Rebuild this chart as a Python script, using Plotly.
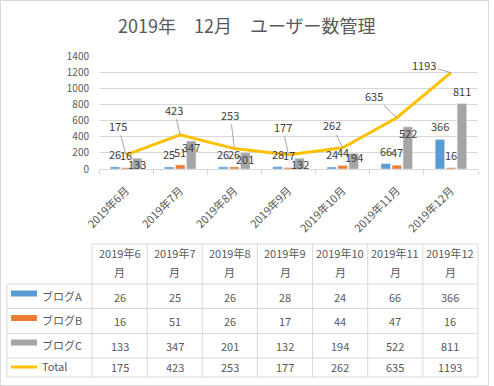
import plotly.graph_objects as go

# ---- data ----
categories = ["2019年6月", "2019年7月", "2019年8月", "2019年9月", "2019年10月", "2019年11月", "2019年12月"]
blog_a = [26, 25, 26, 28, 24, 66, 366]
blog_b = [16, 51, 26, 17, 44, 47, 16]
blog_c = [133, 347, 201, 132, 194, 522, 811]
total = [175, 423, 253, 177, 262, 635, 1193]
series_names = ["ブログA", "ブログB", "ブログC", "Total"]
y_ticks = [0, 200, 400, 600, 800, 1000, 1200, 1400]
title_text = "2019年　12月　ユーザー数管理"

# ---- style ----
W, H = 494, 386
FONT = "Noto Sans CJK JP"
C_A, C_B, C_C, C_T = "#5B9BD5", "#ED7D31", "#A5A5A5", "#FFC000"
GRID = "#D9D9D9"
TXT = "#595959"
LBL = "#404040"


def X(px):
    return px / W


def Y(py):
    return 1 - py / H


fig = go.Figure()
for vals, name, col in zip([blog_a, blog_b, blog_c], series_names[:3], [C_A, C_B, C_C]):
    fig.add_trace(go.Bar(x=categories, y=vals, name=name, marker_color=col, hoverinfo="skip"))
fig.add_trace(go.Scatter(x=categories, y=total, name=series_names[3], mode="lines",
                         line=dict(color=C_T, width=3), hoverinfo="skip"))

lfont = dict(family=FONT, size=11, color=LBL)
annotations = []

# bar data labels (placed at each bar's value, offset to the bar's slot in the group)
slot = 11  # px between bar centres in a group
bar_label_cfg = [
    (blog_a, -slot, [13] * 7),
    (blog_b, 0, [13] * 7),
    (blog_c, slot, [-6, -6, -6, -6, -4, -6, 13]),
]
for vals, xs, ys in bar_label_cfg:
    for c, v, yshift in zip(categories, vals, ys):
        annotations.append(dict(x=c, y=v, xref="x", yref="y", text=str(v), showarrow=False,
                                xanchor="center", yanchor="middle", xshift=xs, yshift=yshift,
                                font=lfont))

# total labels with leader lines
label_offsets = [(-8, -29), (-6, -25), (-4, -34), (-6, -28), (-11, -23), (-23, -22), (-27, -8)]
for c, v, (ax, ay) in zip(categories, total, label_offsets):
    annotations.append(dict(x=c, y=v, xref="x", yref="y", text=str(v), showarrow=True,
                            arrowhead=0, arrowwidth=1, arrowcolor="#A6A6A6", ax=ax, ay=ay,
                            standoff=0, font=lfont))

# title
annotations.append(dict(x=X(247), y=Y(25), xref="paper", yref="paper", text=title_text,
                        showarrow=False, xanchor="center", yanchor="middle",
                        font=dict(family=FONT, size=18, color=TXT)))

# ---- data table ----
shapes = []
col_left = 92
col_right = 478
ncol = len(categories)
col_w = (col_right - col_left) / ncol
col_edges = [col_left + i * col_w for i in range(ncol + 1)]
row_edges = [244, 284, 308.5, 333.5, 358, 377]
tab_left = 7


def hline(py, x0, x1):
    shapes.append(dict(type="line", xref="paper", yref="paper", x0=X(x0), x1=X(x1),
                       y0=Y(py), y1=Y(py), line=dict(color=GRID, width=1)))


def vline(px, y0, y1):
    shapes.append(dict(type="line", xref="paper", yref="paper", x0=X(px), x1=X(px),
                       y0=Y(y0), y1=Y(y1), line=dict(color=GRID, width=1)))


hline(row_edges[0], col_left, col_right)
for r in row_edges[1:]:
    hline(r, tab_left, col_right)
vline(tab_left, row_edges[1], row_edges[-1])
for ce in col_edges:
    vline(ce, row_edges[0], row_edges[-1])

tfont = dict(family=FONT, size=11, color=TXT)
for i, c in enumerate(categories):
    cx = (col_edges[i] + col_edges[i + 1]) / 2
    annotations.append(dict(x=X(cx), y=Y(253), xref="paper", yref="paper", text=c[:-1],
                            showarrow=False, xanchor="center", yanchor="middle", font=tfont))
    annotations.append(dict(x=X(cx), y=Y(272), xref="paper", yref="paper", text=c[-1],
                            showarrow=False, xanchor="center", yanchor="middle", font=tfont))

rows = [blog_a, blog_b, blog_c, total]
row_centers = [296.5, 321, 345.5, 367]
colors = [C_A, C_B, C_C, C_T]
for r, (vals, cy, name, col) in enumerate(zip(rows, row_centers, series_names, colors)):
    for i, v in enumerate(vals):
        cx = (col_edges[i] + col_edges[i + 1]) / 2
        annotations.append(dict(x=X(cx), y=Y(cy), xref="paper", yref="paper", text=str(v),
                                showarrow=False, xanchor="center", yanchor="middle", font=tfont))
    # legend key
    if r < 3:
        shapes.append(dict(type="rect", xref="paper", yref="paper", x0=X(11), x1=X(37),
                           y0=Y(cy - 6), y1=Y(cy), fillcolor=col, line=dict(width=0)))
    else:
        shapes.append(dict(type="line", xref="paper", yref="paper", x0=X(11), x1=X(37),
                           y0=Y(cy), y1=Y(cy), line=dict(color=col, width=3)))
    annotations.append(dict(x=X(40), y=Y(cy - 1), xref="paper", yref="paper", text=name,
                            showarrow=False, xanchor="left", yanchor="middle", font=tfont))

# outer chart border
shapes.append(dict(type="rect", xref="paper", yref="paper", x0=X(0.5), x1=X(488.5),
                   y0=Y(385.5), y1=Y(0.5), line=dict(color=GRID, width=1), layer="below"))

fig.update_layout(
    width=W, height=H,
    margin=dict(l=0, r=0, t=0, b=0, autoexpand=False),
    paper_bgcolor="white", plot_bgcolor="white",
    showlegend=False,
    barmode="group", bargap=0.39, bargroupgap=0.14,
    font=dict(family=FONT, color=TXT),
    xaxis=dict(domain=[X(99), X(478)], range=[-0.5, 6.5], type="category",
               tickangle=-45, tickfont=dict(family=FONT, size=11, color=TXT),
               showline=True, linecolor=GRID, linewidth=1,
               ticks="outside", tickson="boundaries", ticklen=5, tickcolor=GRID,
               ticklabelstandoff=10,
               showgrid=False, automargin=False),
    yaxis=dict(domain=[Y(169), Y(56)], range=[0, 1400], tickvals=y_ticks,
               tickfont=dict(family=FONT, size=10, color=TXT),
               showgrid=True, gridcolor=GRID, gridwidth=1, zeroline=False,
               showline=False, ticks="", ticklabelstandoff=9, automargin=False),
    annotations=annotations,
    shapes=shapes,
)

fig.write_html("out.html", config={"displayModeBar": False},
               post_script="document.body.style.margin='0';")
